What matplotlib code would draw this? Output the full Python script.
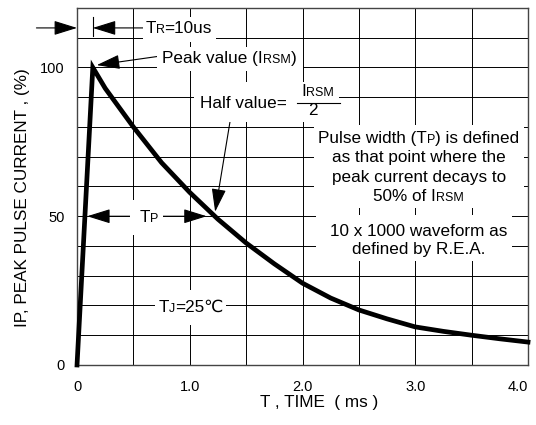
import matplotlib
matplotlib.use('Agg')
import matplotlib.pyplot as plt
from matplotlib.ticker import MultipleLocator
from matplotlib.patches import Rectangle
from matplotlib.transforms import IdentityTransform, Bbox

plt.rcParams['font.family'] = ['Liberation Sans', 'DejaVu Sans']

# 10 x 1000 us pulse waveform
time_ms = [0, 0.14, 0.25, 0.5, 0.75, 1.0, 1.25, 1.5, 1.75, 2.0, 2.25, 2.5, 2.75, 3.0, 3.25, 3.5, 3.75, 4.0]
current_pct = [0, 100, 93, 80, 68, 58, 49, 41, 34, 27.5, 22.5, 18.5, 15.5, 12.8, 11.3, 10, 8.8, 7.7]

x_ticks = [0, 1, 2, 3, 4]
x_ticklabels = ['0', '1.0', '2.0', '3.0', '4.0']
y_ticks = [0, 50, 100]

big = 12.3
small = 9
tick_size = 10.5

fig = plt.figure(figsize=(5.36, 4.25), dpi=100)
ax = fig.add_axes([0.1437, 0.1412, 0.8414, 0.84])

ax.plot(time_ms, current_pct, color='black', lw=3.4, solid_joinstyle='miter',
        clip_on=False, zorder=3)

ax.set_xlim(0, 4)
ax.set_ylim(0, 120)
ax.set_xticks(x_ticks)
ax.set_xticklabels(x_ticklabels)
ax.get_xticklabels()[-1].set_ha('right')
ax.set_yticks(y_ticks)
ax.xaxis.set_minor_locator(MultipleLocator(0.5))
ax.yaxis.set_minor_locator(MultipleLocator(10))
ax.grid(which='both', color='black', lw=0.7)
ax.set_axisbelow(True)
ax.tick_params(which='both', length=0, labelsize=tick_size)
ax.tick_params(axis='x', pad=11)
ax.tick_params(axis='y', pad=9)
for sp in ax.spines.values():
    sp.set_color('#444444')
    sp.set_linewidth(1)

ax.set_xlabel('T , TIME  ( ms )', fontsize=big)
ax.xaxis.set_label_coords(0.537, -0.085)
ax.set_ylabel('IP, PEAK PULSE CURRENT , (%)', fontsize=big)
ax.yaxis.set_label_coords(-0.105, 0.47)

renderer = fig.canvas.get_renderer()


def rich_text(x, y, parts, ha='center'):
    # parts: list of (string, fontsize), drawn side by side on one baseline
    widths = []
    for s, size in parts:
        t = ax.text(0, 0, s, fontsize=size)
        widths.append(t.get_window_extent(renderer).width * 72 / fig.dpi)
        t.remove()
    total = sum(widths)
    off = {'left': 0, 'center': -total / 2, 'right': -total}[ha]
    arts = []
    for (s, size), w in zip(parts, widths):
        a = ax.annotate(s, xy=(x, y), xytext=(off, 0), textcoords='offset points',
                        ha='left', va='baseline', fontsize=size, annotation_clip=False, zorder=5)
        arts.append(a)
        off += w
    return arts


def white_box(arts, left=5, right=5, top=5, bottom=5):
    # blank out the grid behind a group of texts (pads in pixels)
    bb = Bbox.union([a.get_window_extent(renderer) for a in arts])
    rect = Rectangle((bb.x0 - left, bb.y0 - bottom), bb.width + left + right,
                     bb.height + top + bottom, facecolor='white', edgecolor='none',
                     zorder=4, clip_on=False)
    rect.set_transform(IdentityTransform())
    ax.add_artist(rect)


arrow = dict(arrowstyle='-|>,head_length=0.9,head_width=0.28', color='black', lw=0.8,
             mutation_scale=16, shrinkA=0, shrinkB=0)

# TR = 10us
ax.annotate('', xy=(0, 113.3), xytext=(-0.36, 113.3), arrowprops=arrow, annotation_clip=False)
ax.annotate('', xy=(0.14, 113.3), xytext=(0.7, 113.3), arrowprops=arrow, annotation_clip=False)
ax.plot([0.14, 0.14], [110.5, 117], color='black', lw=0.8, clip_on=False)
tr = rich_text(0.605, 111.6, [('T', big), ('R', small), ('=10us', big)], ha='left')
white_box(tr, left=2, right=4, top=4, bottom=6)

# peak value
ax.annotate('', xy=(0.175, 100.8), xytext=(0.75, 103.9), arrowprops=arrow)
pk = rich_text(0.755, 101.5, [('Peak value (I', big), ('RSM', small), (')', big)], ha='left')
white_box(pk, left=5, right=7, top=4, bottom=5)

# half value
ax.annotate('', xy=(1.225, 51.5), xytext=(1.36, 82.5), arrowprops=arrow)
hv = rich_text(1.09, 86.5, [('Half value=', big)], ha='left')
hv += rich_text(2.13, 90.4, [('I', big), ('RSM', small)])
hv += rich_text(2.09, 84.0, [('2', big)])
ax.plot([1.95, 2.33], [88.1, 88.1], color='black', lw=0.8, zorder=5)
white_box(hv, left=6, right=6, top=2, bottom=4)

# TP arrows
ax.annotate('', xy=(0.09, 50), xytext=(0.64, 50), arrowprops=arrow)
ax.annotate('', xy=(1.15, 50), xytext=(0.64, 50), arrowprops=arrow)
tp = rich_text(0.64, 48.1, [('T', big), ('P', small)])
white_box(tp, left=10, right=4, top=10, bottom=10)

# pulse width description
pw = rich_text(3.03, 74.6, [('Pulse width (T', big), ('P', small), (') is defined', big)])
pw += rich_text(3.03, 68.2, [('as that point where the', big)])
pw += rich_text(3.03, 61.5, [('peak current decays to', big)])
pw += rich_text(3.03, 55.1, [('50% of I', big), ('RSM', small)])
white_box(pw, left=4, right=5, top=6, bottom=4)

wf = rich_text(3.03, 43.4, [('10 x 1000 waveform as', big)])
wf += rich_text(3.03, 37.3, [('defined by R.E.A.', big)])
white_box(wf, left=14, right=5, top=9, bottom=4)

# junction temperature
tj = rich_text(1.01, 17.8, [('T', big), ('J', small), ('=25\u2103', big)])
white_box(tj, left=3, right=3, top=10, bottom=10)

fig.savefig('out.png', dpi=100)
